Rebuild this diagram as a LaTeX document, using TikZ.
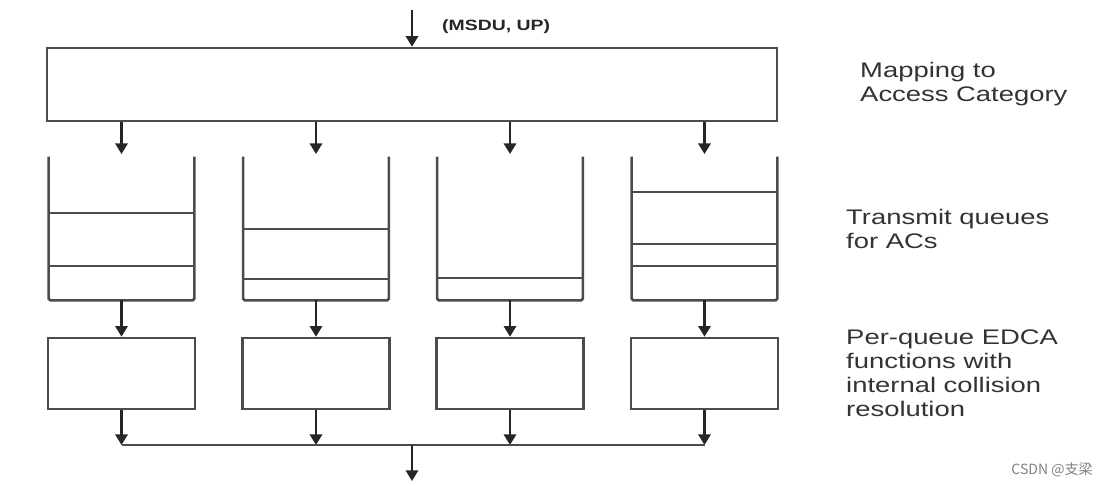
\documentclass[tikz,border=0pt]{standalone}
\usepackage{fontspec}
\newfontfamily\lblfont[FakeStretch=1.3]{Liberation Sans}
\newfontfamily\cjkfont{Noto Sans CJK SC}
\usetikzlibrary{arrows.meta,positioning}

\begin{document}
\begin{tikzpicture}[x=0.2mm,y=-0.2mm,>={Triangle[width=7pt,length=6pt]}]
  \tikzstyle{line}=[draw=black!70,line width=1.5pt]
  \tikzstyle{arr}=[black!85,line width=1.2pt,->]
  \tikzstyle{mapbox}=[line,minimum width=14.6cm,minimum height=1.46cm]
  \tikzstyle{queue}=[minimum width=2.9cm,minimum height=2.86cm]
  \tikzstyle{fbox}=[line,minimum width=2.94cm,minimum height=1.42cm]
  \tikzstyle{lbl}=[anchor=west,align=left,text=black!80,font=\lblfont\fontsize{12}{13.6}\selectfont]
  \useasboundingbox (0,0) rectangle (1113,486);
  % mapping to access category
  \coordinate (in) at (412,10);
  \node[mapbox] (map) at (412,84.5) {};
  \draw[arr] (in) -- (map.north);
  \node[anchor=west,text=black!85,font=\lblfont\bfseries\fontsize{8.5}{10}\selectfont] (msdu) at (436,27) {(MSDU, UP)};
  % transmit queues
  \node[queue] (q1) at (121.5,228.5) {};
  \node[queue] (q2) at (316,228.5) {};
  \node[queue] (q3) at (510,228.5) {};
  \node[queue] (q4) at (704.5,228.5) {};
  \foreach \q/\ys in {q1/{213,266},q2/{229,279},q3/{278},q4/{192,244,266}} {
    \draw[line,rounded corners=1pt] (\q.north west) |- (\q.south east) -- (\q.north east);
    \foreach \y in \ys
      \draw[line] (\q.west |- 0,\y) -- (\q.east |- 0,\y);
    \draw[arr] (map.south -| \q) -- ([yshift=1.5pt]\q.north);
  }
  % EDCA functions
  \node[fbox] (e1) at (121.5,373.5) {};
  \node[fbox] (e2) at (316,373.5) {};
  \node[fbox] (e3) at (510,373.5) {};
  \node[fbox] (e4) at (704.5,373.5) {};
  \coordinate (bus) at (412,445);
  \coordinate (out) at (412,481);
  \foreach \i in {1,2,3,4} {
    \draw[arr] (q\i.south) -- (e\i.north);
    \draw[arr] (e\i.south) -- (e\i.south |- bus);
  }
  \draw[line] (e1.south |- bus) -- (e4.south |- bus);
  \draw[arr] (bus) -- (out);
  % labels
  \node[lbl] (lmap) at (854,84.5) {Mapping to\\Access Category};
  \node[lbl] (lq) at (840,229) {Transmit queues\\for ACs};
  \node[lbl] (ledca) at (840,373.5) {Per-queue EDCA\\functions with\\internal collision\\resolution};
  \node[anchor=east,text=black!50,font=\cjkfont\fontsize{8}{9}\selectfont] (mark) at (1099,470) {CSDN @支梁};
\end{tikzpicture}
\end{document}
